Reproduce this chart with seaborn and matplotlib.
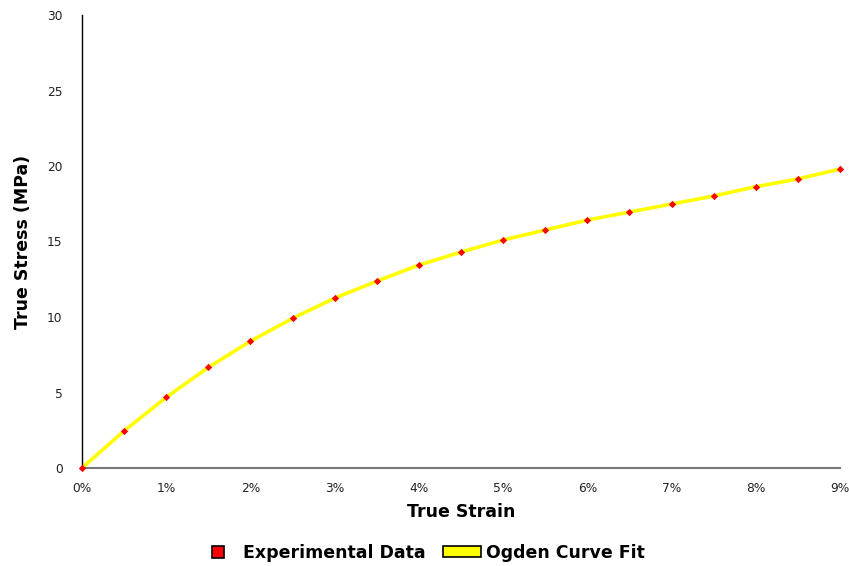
import matplotlib
matplotlib.use("Agg")
import matplotlib.pyplot as plt
import seaborn as sns
import pandas as pd
from matplotlib.patches import Patch
from matplotlib.lines import Line2D
from matplotlib.ticker import FuncFormatter

strain_pct = [0, 0.5, 1, 1.5, 2, 2.5, 3, 3.5, 4, 4.5, 5, 5.5, 6, 6.5, 7, 7.5, 8, 8.5, 9]
stress_exp = [0, 2.46, 4.68, 6.66, 8.40, 9.91, 11.25, 12.37, 13.44, 14.30, 15.10,
              15.76, 16.42, 16.95, 17.48, 18.01, 18.63, 19.14, 19.80]
stress_fit = [0, 2.46, 4.68, 6.66, 8.40, 9.91, 11.25, 12.37, 13.44, 14.30, 15.10,
              15.76, 16.42, 16.95, 17.48, 18.01, 18.63, 19.14, 19.80]
x_ticks = [0, 1, 2, 3, 4, 5, 6, 7, 8, 9]
y_ticks = [0, 5, 10, 15, 20, 25, 30]

df = pd.DataFrame({"strain": strain_pct, "exp": stress_exp, "fit": stress_fit})

sns.set_style("white")
plt.rcParams['font.family'] = ['DejaVu Sans']
plt.rcParams['text.color'] = '#000000'
plt.rcParams['axes.labelcolor'] = '#000000'

fig = plt.figure(figsize=(8.49, 5.66), dpi=100)
ax = fig.add_axes([82/849, 1 - 468/566, (840-82)/849, (468-15)/566])

sns.lineplot(data=df, x="strain", y="fit", ax=ax, color="#FFFF00", linewidth=2.6,
             zorder=2, clip_on=False)
sns.scatterplot(data=df, x="strain", y="exp", ax=ax, color="#FF0000", marker="D",
                s=14, linewidth=0, zorder=3, clip_on=False)

ax.set_xlim(0, 9)
ax.set_ylim(0, 30)
ax.set_xticks(x_ticks)
ax.set_yticks(y_ticks)
ax.xaxis.set_major_formatter(FuncFormatter(lambda v, p: f"{int(round(v))}%"))
ax.tick_params(axis="both", direction="inout", length=6, width=1, labelsize=8.8,
               colors="#000000", labelcolor="#222222")
ax.tick_params(axis="x", color="#555555", pad=7)
ax.tick_params(axis="y", pad=11)
for s in ["top", "right"]:
    ax.spines[s].set_visible(False)
ax.spines["left"].set_color("#000000")
ax.spines["bottom"].set_color("#777777")
ax.spines["left"].set_linewidth(1)
ax.spines["bottom"].set_linewidth(1.5)

ax.set_xlabel("True Strain", fontsize=12.5, fontweight="bold", labelpad=6)
ax.set_ylabel("True Stress (MPa)", fontsize=12.5, fontweight="bold", labelpad=11)

handles = [
    Line2D([0], [0], marker="s", linestyle="none", markerfacecolor="#FF0000",
           markeredgecolor="#000000", markersize=8, markeredgewidth=1.2),
    Patch(facecolor="#FFFF00", edgecolor="#000000", linewidth=1.2),
]
fig.legend(handles, ["Experimental Data", "Ogden Curve Fit"], loc="center",
           bbox_to_anchor=(0.497, 1 - 553/566), ncol=2, frameon=False,
           prop={"weight": "bold", "size": 12.5}, handlelength=2.2, handleheight=0.6,
           columnspacing=1.0, handletextpad=0.3)

fig.savefig("out.png", dpi=100)
